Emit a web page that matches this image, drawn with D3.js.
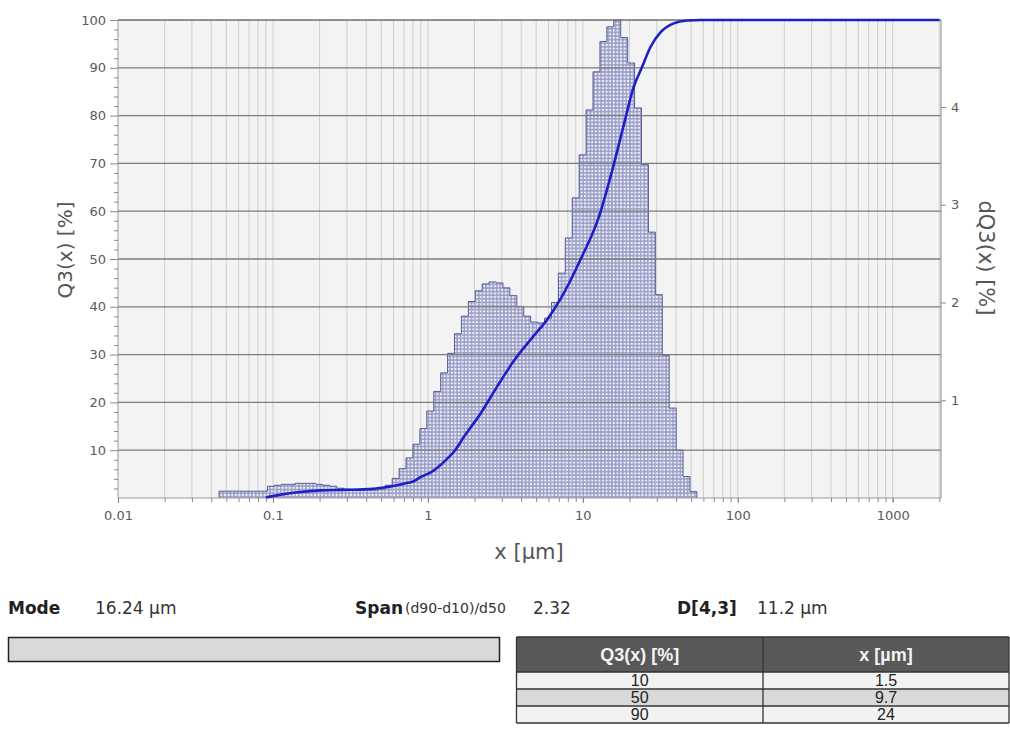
<!DOCTYPE html>
<html>
<head>
<meta charset="utf-8">
<script src="https://cdn.jsdelivr.net/npm/d3@7"></script>
<style>
  body { margin: 0; background: #fff; }
  svg { display: block; font-family: "DejaVu Sans", Verdana, sans-serif; }
</style>
</head>
<body>
<svg width="1010" height="747"></svg>
<script>
// size classes (µm), lower edges + final upper edge
const binEdges = [0.0449,0.0497,0.0551,0.0611,0.0677,0.0751,0.0832,0.0922,0.1022,0.1133,
  0.1256,0.1392,0.1543,0.171,0.1896,0.2101,0.2329,0.2582,0.2861,0.3171,
  0.3516,0.3897,0.4319,0.4787,0.5306,0.5882,0.6519,0.7226,0.8009,0.8877,
  0.984,1.0907,1.2089,1.34,1.4852,1.6462,1.8247,2.0225,2.2417,2.4847,
  2.7542,3.0527,3.3836,3.7505,4.1571,4.6077,5.1072,5.6609,6.2746,6.9548,
  7.709,8.5447,9.471,10.498,11.636,12.898,14.296,15.846,17.564,19.468,
  21.578,23.917,26.51,29.384,32.57,36.101,40.015,44.353,49.161,54.491];

// dQ3(x) per class [%]
const dq3 = [0.07,0.07,0.07,0.07,0.07,0.07,0.07,0.12,0.13,0.14,
  0.14,0.15,0.15,0.15,0.14,0.13,0.12,0.10,0.09,0.08,
  0.08,0.08,0.08,0.09,0.13,0.20,0.30,0.41,0.55,0.71,
  0.89,1.09,1.28,1.48,1.68,1.86,2.01,2.12,2.19,2.21,
  2.20,2.15,2.07,1.96,1.86,1.80,1.79,1.84,2.00,2.30,
  2.66,3.07,3.51,3.97,4.36,4.67,4.82,4.89,4.71,4.45,
  3.99,3.41,2.72,2.08,1.46,0.92,0.49,0.22,0.065];

// cumulative Q3(x) [%]
const cumX = [0.09,0.108,0.145,0.204,0.287,0.386,0.52,0.70,0.81,0.90,1.05,1.34,1.5,1.71,2.2,2.81,
  3.59,4.62,5.91,7.2,9.7,12.7,15.5,18.5,21.3,24,27.4,31.9,38.6,47.4,57.6,2000];
const cumQ = [0.1,0.6,1.2,1.6,1.7,1.8,2.2,3.0,3.5,4.4,5.4,8.3,10,12.8,17.8,23.4,
  28.7,33.2,37.4,41.7,50,58.8,68.6,78.4,86,90,94.4,97.5,99.3,99.9,100,100];

const xMajor = [0.01, 0.1, 1, 10, 100, 1000];
const qTicks = [10, 20, 30, 40, 50, 60, 70, 80, 90, 100];
const dqTicks = [1, 2, 3, 4];

const summaryLabels = ["Mode", "Span", "D[4,3]"];
const summaryValues = ["16.24 µm", "2.32", "11.2 µm"];

const tableHeader = ["Q3(x) [%]", "x [µm]"];
const tableQ = [10, 50, 90];
const tableX = ["1.5", "9.7", "24"];

const svg = d3.select("svg");
const pLeft = 118, pRight = 941, pTop = 20, pBottom = 498;

const x = d3.scaleLog().domain([0.01, 2050]).range([pLeft, pRight]);
const yL = d3.scaleLinear().domain([0, 100]).range([pBottom, pTop]);
const yR = d3.scaleLinear().domain([0, 4.89]).range([pBottom, pTop]);

// minor log positions
const xMinor = [];
xMajor.forEach(d => {
  for (let m = 1; m <= 9; m++) {
    const v = +(d * m).toPrecision(3);
    if (v > 0.01 && v < 2050) xMinor.push(v);
  }
});

// pattern for bars
const defs = svg.append("defs");
const pat = defs.append("pattern")
  .attr("id", "dots")
  .attr("width", 3.6).attr("height", 3.6)
  .attr("patternUnits", "userSpaceOnUse");
pat.append("rect").attr("width", 3.6).attr("height", 3.6).attr("fill", "#999dc6");
pat.append("circle").attr("cx", 1.8).attr("cy", 1.8).attr("r", 1.2).attr("fill", "#f0f1f8");

// plot background
svg.append("rect")
  .attr("x", pLeft).attr("y", pTop)
  .attr("width", pRight - pLeft).attr("height", pBottom - pTop)
  .attr("fill", "#f3f3f3");

// vertical grid
svg.append("g")
  .selectAll("line")
  .data(xMinor)
  .enter()
  .append("line")
  .attr("x1", d => x(d)).attr("x2", d => x(d))
  .attr("y1", pTop).attr("y2", pBottom)
  .attr("stroke", "#cfcfcf")
  .attr("stroke-width", 1);

// histogram
const bins = dq3.map((v, i) => ({ x0: binEdges[i], x1: binEdges[i + 1], v: v }));
svg.append("g")
  .selectAll("rect")
  .data(bins)
  .enter()
  .append("rect")
  .attr("x", d => x(d.x0))
  .attr("y", d => yR(d.v))
  .attr("width", d => x(d.x1) - x(d.x0))
  .attr("height", d => yR(0) - yR(d.v))
  .attr("fill", "url(#dots)");

const lastEdge = binEdges[binEdges.length - 1];
const outlinePts = [[binEdges[0], 0]]
  .concat(bins.map(d => [d.x0, d.v]))
  .concat([[lastEdge, dq3[dq3.length - 1]], [lastEdge, 0]]);
svg.append("path")
  .datum(outlinePts)
  .attr("fill", "none")
  .attr("stroke", "#4b4f8c")
  .attr("stroke-width", 0.9)
  .attr("d", d3.line().x(d => x(d[0])).y(d => yR(d[1])).curve(d3.curveStepAfter));

// horizontal grid
svg.append("g")
  .selectAll("line")
  .data(qTicks.slice(0, -1))
  .enter()
  .append("line")
  .attr("x1", pLeft).attr("x2", pRight)
  .attr("y1", d => yL(d)).attr("y2", d => yL(d))
  .attr("stroke", "#7c7c7c")
  .attr("stroke-width", 1.3);

// frame
svg.append("line").attr("x1", pLeft).attr("x2", pRight).attr("y1", pTop).attr("y2", pTop)
  .attr("stroke", "#6e6e6e").attr("stroke-width", 1.5);
svg.append("line").attr("x1", pLeft).attr("x2", pLeft).attr("y1", pTop).attr("y2", pBottom)
  .attr("stroke", "#9a9a9a").attr("stroke-width", 1);
svg.append("line").attr("x1", pRight).attr("x2", pRight).attr("y1", pTop).attr("y2", pBottom)
  .attr("stroke", "#8a8a8a").attr("stroke-width", 1);
svg.append("line").attr("x1", pLeft).attr("x2", pRight).attr("y1", pBottom).attr("y2", pBottom)
  .attr("stroke", "#9a9a9a").attr("stroke-width", 1);

// cumulative curve
svg.append("path")
  .datum(cumX.map((d, i) => [d, cumQ[i]]))
  .attr("fill", "none")
  .attr("stroke", "#1e1ec8")
  .attr("stroke-width", 2.6)
  .attr("d", d3.line().x(d => x(d[0])).y(d => yL(d[1])).curve(d3.curveMonotoneX));

// axes
function styleAxis(g) {
  g.select(".domain").remove();
  g.selectAll(".tick line").attr("stroke", "#8a8a8a");
  g.selectAll(".tick text").attr("fill", "#5a5a5a").style("font-size", "13px")
    .style("font-family", "DejaVu Sans, Verdana, sans-serif");
}

const qMinor = d3.range(2, 100, 2).filter(d => d % 10 !== 0);
svg.append("g").attr("transform", `translate(${pLeft},0)`)
  .call(d3.axisLeft(yL).tickValues(qMinor).tickSize(4).tickFormat(""))
  .call(styleAxis);
svg.append("g").attr("transform", `translate(${pLeft},0)`)
  .call(d3.axisLeft(yL).tickValues(qTicks).tickSize(8).tickPadding(4))
  .call(styleAxis);

svg.append("g").attr("transform", `translate(${pRight},0)`)
  .call(d3.axisRight(yR).tickValues(dqTicks).tickSize(5).tickPadding(5).tickFormat(d3.format("d")))
  .call(styleAxis);

svg.append("g").attr("transform", `translate(0,${pBottom})`)
  .call(d3.axisBottom(x).tickValues(xMinor).tickSize(4).tickFormat(""))
  .call(styleAxis);
svg.append("g").attr("transform", `translate(0,${pBottom})`)
  .call(d3.axisBottom(x).tickValues(xMajor).tickSize(5).tickPadding(8).tickFormat(d => String(d)))
  .call(styleAxis);

// axis titles
svg.append("text")
  .attr("transform", "translate(72,250) rotate(-90)")
  .attr("text-anchor", "middle")
  .attr("fill", "#555")
  .style("font-size", "20px")
  .text("Q3(x) [%]");
svg.append("text")
  .attr("transform", "translate(979,258) rotate(90)")
  .attr("text-anchor", "middle")
  .attr("fill", "#555")
  .style("font-size", "21px")
  .text("dQ3(x) [%]");
svg.append("text")
  .attr("x", 529).attr("y", 559)
  .attr("text-anchor", "middle")
  .attr("fill", "#555")
  .style("font-size", "21px")
  .text("x [µm]");

// summary line
const sumY = 614;
const labelX = [8, 355, 677];
const valueX = [95, 533, 757];
summaryLabels.forEach((t, i) => {
  svg.append("text").attr("x", labelX[i]).attr("y", sumY)
    .attr("fill", "#222").style("font-size", "17px").style("font-weight", "bold").text(t);
  svg.append("text").attr("x", valueX[i]).attr("y", sumY)
    .attr("fill", "#333").style("font-size", "17px").text(summaryValues[i]);
});
svg.append("text").attr("x", 405).attr("y", sumY - 1)
  .attr("fill", "#333").style("font-size", "14px").text("(d90-d10)/d50");

// grey bar
svg.append("rect")
  .attr("x", 8.5).attr("y", 637.5)
  .attr("width", 491).attr("height", 24)
  .attr("fill", "#d9d9d9")
  .attr("stroke", "#222").attr("stroke-width", 1.5);

// table
const tx0 = 516.5, tx1 = 763, tx2 = 1009;
const headTop = 637, headH = 35, rowH = 17;
svg.append("rect").attr("x", tx0).attr("y", headTop).attr("width", tx2 - tx0).attr("height", headH)
  .attr("fill", "#595959");
const rowFill = ["#f2f2f2", "#d9d9d9", "#f2f2f2"];
tableQ.forEach((q, i) => {
  const ry = headTop + headH + i * rowH;
  svg.append("rect").attr("x", tx0).attr("y", ry).attr("width", tx2 - tx0).attr("height", rowH)
    .attr("fill", rowFill[i]);
  svg.append("text").attr("x", (tx0 + tx1) / 2).attr("y", ry + 14)
    .attr("text-anchor", "middle").attr("fill", "#222")
    .style("font-family", "Liberation Sans, Arial, sans-serif").style("font-size", "16px").text(q);
  svg.append("text").attr("x", (tx1 + tx2) / 2).attr("y", ry + 14)
    .attr("text-anchor", "middle").attr("fill", "#222")
    .style("font-family", "Liberation Sans, Arial, sans-serif").style("font-size", "16px").text(tableX[i]);
});
tableHeader.forEach((h, i) => {
  svg.append("text").attr("x", i === 0 ? (tx0 + tx1) / 2 : (tx1 + tx2) / 2).attr("y", headTop + 24)
    .attr("text-anchor", "middle").attr("fill", "#f4f4f4")
    .style("font-family", "Liberation Sans, Arial, sans-serif").style("font-size", "18px")
    .style("font-weight", "bold").text(h);
});
// table lines
const tBottom = headTop + headH + tableQ.length * rowH;
const hLines = [headTop, headTop + headH, headTop + headH + rowH, headTop + headH + 2 * rowH, tBottom];
svg.append("g").selectAll("line").data(hLines).enter().append("line")
  .attr("x1", tx0).attr("x2", tx2).attr("y1", d => d).attr("y2", d => d)
  .attr("stroke", "#333").attr("stroke-width", 1.3);
svg.append("g").selectAll("line").data([tx0, tx1, tx2]).enter().append("line")
  .attr("x1", d => d).attr("x2", d => d).attr("y1", headTop).attr("y2", tBottom)
  .attr("stroke", "#333").attr("stroke-width", 1.3);
</script>
</body>
</html>
